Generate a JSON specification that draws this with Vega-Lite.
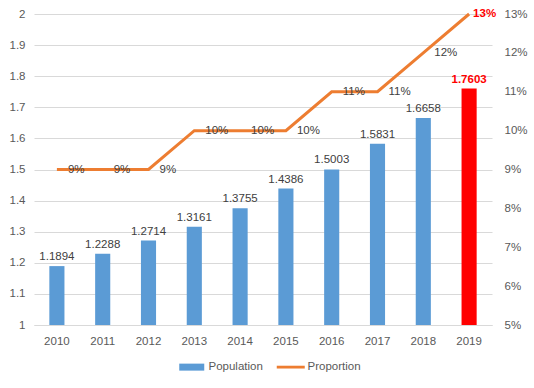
{
  "$schema": "https://vega.github.io/schema/vega-lite/v6.json",
  "width": 458,
  "height": 311,
  "autosize": {"type": "none"},
  "padding": {"left": 34, "top": 14, "right": 42, "bottom": 63},
  "background": "white",
  "config": {
    "view": {"stroke": null},
    "font": "Liberation Sans",
    "axis": {"labelColor": "#595959", "labelFontSize": 11.5, "labelFont": "Liberation Sans", "domain": false, "ticks": false, "title": null}
  },
  "data": {
    "values": [
      {"year": "2010", "pop": 1.1894, "prop": 0.09},
      {"year": "2011", "pop": 1.2288, "prop": 0.09},
      {"year": "2012", "pop": 1.2714, "prop": 0.09},
      {"year": "2013", "pop": 1.3161, "prop": 0.10},
      {"year": "2014", "pop": 1.3755, "prop": 0.10},
      {"year": "2015", "pop": 1.4386, "prop": 0.10},
      {"year": "2016", "pop": 1.5003, "prop": 0.11},
      {"year": "2017", "pop": 1.5831, "prop": 0.11},
      {"year": "2018", "pop": 1.6658, "prop": 0.12},
      {"year": "2019", "pop": 1.7603, "prop": 0.13}
    ]
  },
  "encoding": {
    "x": {
      "field": "year",
      "type": "ordinal",
      "scale": {"paddingInner": 0.67, "paddingOuter": 0.335},
      "axis": {"labelAngle": 0, "labelPadding": 10, "domain": true, "domainColor": "#d9d9d9"}
    }
  },
  "layer": [
    {
      "encoding": {
        "y": {
          "field": "pop",
          "type": "quantitative",
          "scale": {"domain": [1, 2], "zero": false, "nice": false},
          "axis": {"values": [1, 1.1, 1.2, 1.3, 1.4, 1.5, 1.6, 1.7, 1.8, 1.9, 2], "format": "~g", "labelPadding": 9, "gridColor": "#d9d9d9", "orient": "left"}
        }
      },
      "layer": [
        {
          "mark": {"type": "bar"},
          "encoding": {
            "y2": {"datum": 1},
            "color": {
              "condition": {"test": "datum.year == '2019'", "value": "#ff0000"},
              "datum": "Population",
              "type": "nominal",
              "scale": {"domain": ["Population", "Proportion"], "range": ["#5b9bd5", "#ed7d31"]},
              "legend": {
                "title": null,
                "orient": "none",
                "direction": "horizontal",
                "legendX": 152,
                "legendY": 347,
                "labelColor": "#595959",
                "labelFontSize": 11.5,
                "labelOffset": 11,
                "columnPadding": 13,
                "symbolSize": 100,
                "symbolStrokeWidth": 0,
                "encode": {
                  "symbols": {
                    "update": {
                      "shape": {"signal": "datum.value === 'Population' ? 'M-2.5,-0.7H2.5V0.7H-2.5Z' : 'M-2.8,-0.28H2.8V0.28H-2.8Z'"},
                      "strokeWidth": {"value": 0}
                    }
                  }
                }
              }
            }
          }
        },
        {
          "transform": [{"filter": "datum.year != '2019'"}],
          "mark": {"type": "text", "baseline": "bottom", "dy": -4, "fontSize": 11.5, "color": "#404040"},
          "encoding": {
            "text": {"field": "pop", "type": "quantitative", "format": ".4f"}
          }
        },
        {
          "transform": [{"filter": "datum.year == '2019'"}],
          "mark": {"type": "text", "baseline": "bottom", "dy": -4, "fontSize": 11.5, "fontWeight": "bold", "color": "#ff0000"},
          "encoding": {
            "text": {"field": "pop", "type": "quantitative", "format": ".4f"}
          }
        }
      ]
    },
    {
      "encoding": {
        "y": {
          "field": "prop",
          "type": "quantitative",
          "scale": {"domain": [0.05, 0.13], "zero": false, "nice": false},
          "axis": {"orient": "right", "values": [0.05, 0.06, 0.07, 0.08, 0.09, 0.10, 0.11, 0.12, 0.13], "format": ".0%", "grid": false, "labelPadding": 12}
        }
      },
      "layer": [
        {
          "mark": {"type": "line", "strokeWidth": 3},
          "encoding": {
            "color": {"datum": "Proportion", "type": "nominal"}
          }
        },
        {
          "transform": [{"filter": "datum.year != '2019'"}],
          "mark": {"type": "text", "align": "left", "baseline": "middle", "dx": 11, "fontSize": 11.5, "color": "#404040"},
          "encoding": {
            "text": {"field": "prop", "type": "quantitative", "format": ".0%"}
          }
        },
        {
          "transform": [{"filter": "datum.year == '2019'"}],
          "mark": {"type": "text", "align": "left", "baseline": "middle", "dx": 4, "fontSize": 11.5, "fontWeight": "bold", "color": "#ff0000"},
          "encoding": {
            "text": {"field": "prop", "type": "quantitative", "format": ".0%"}
          }
        }
      ]
    }
  ],
  "resolve": {"scale": {"y": "independent"}}
}
